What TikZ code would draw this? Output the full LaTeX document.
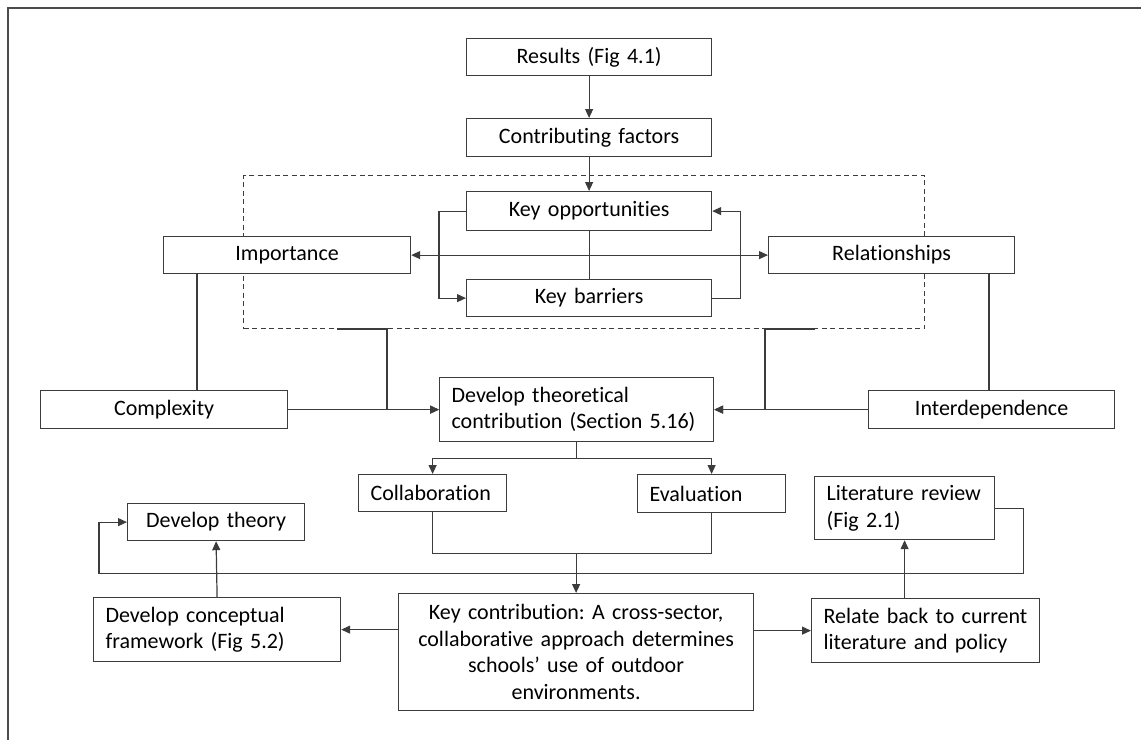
\documentclass[tikz,border=0pt]{standalone}
\usepackage{fontspec}
\setmainfont{Carlito}[Ligatures=NoCommon, WordSpace=0.75]
\frenchspacing
\usetikzlibrary{arrows.meta}
\definecolor{lc}{HTML}{3C3C3C}
\begin{document}
\begin{tikzpicture}[
  x=1pt, y=-1pt,
  every node/.style={font=\fontsize{22}{26.5}\selectfont},
  box/.style={draw=lc, line width=1.2pt, fill=white, inner xsep=12pt, inner ysep=0pt,
              anchor=north west, align=center},
  lbox/.style={box, align=left},
  conn/.style={draw=lc, line width=1.2pt},
  arr/.style={conn, -{Triangle[length=9pt,width=8pt]}},
  arrboth/.style={conn, {Triangle[length=9pt,width=8pt]}-{Triangle[length=9pt,width=8pt]}},
  grpbox/.style={draw=lc, line width=1pt, dash pattern=on 5pt off 3.5pt, inner sep=0pt,
                 anchor=north west}
]
\useasboundingbox (0,0) rectangle (1141,740);
% page frame (top and left rules)
\draw[line width=1.6pt, black!70] (8,740) -- (8,8) -- (1141,8);

% group of contributing factors
\node[grpbox, minimum width=681pt, minimum height=153pt] (grp) at (243,175) {};

% boxes
\node[box, text width=221pt, minimum height=37pt] (res) at (466,38) {Results (Fig 4.1)};
\node[box, text width=221pt, minimum height=38pt] (cf)  at (466,118) {Contributing factors};
\node[box, text width=221pt, minimum height=39pt] (ko)  at (466,191) {Key opportunities};
\node[box, text width=221pt, minimum height=37pt] (kb)  at (466,279) {Key barriers};
\node[box, text width=223pt, minimum height=37pt] (imp) at (163,236) {Importance};
\node[box, text width=222pt, minimum height=37pt] (rel) at (768,236) {Relationships};
\node[box, text width=223pt, minimum height=38pt] (cpx) at (40,390) {Complexity};
\node[box, text width=222pt, minimum height=38pt] (idp) at (868,390) {Interdependence};
\node[lbox, text width=250pt, minimum height=64pt] (dtc) at (439,377)
  {Develop theoretical\\contribution (Section 5.16)};
\node[lbox, text width=124pt, minimum height=37pt] (col) at (358,474) {Collaboration};
\node[lbox, text width=124pt, minimum height=38pt] (eva) at (637,474) {Evaluation};
\node[box, text width=153pt, minimum height=37pt] (dth) at (127,503) {Develop theory};
\node[lbox, text width=156pt, minimum height=63pt] (lit) at (814,476)
  {Literature review\\(Fig 2.1)};
\node[lbox, text width=223pt, minimum height=64pt] (dcf) at (93,597)
  {Develop conceptual\\framework (Fig 5.2)};
\node[box, text width=331pt, minimum height=117pt] (kc) at (398,593)
  {Key contribution: A cross-sector,\\collaborative approach determines\\schools’ use of outdoor\\environments.};
\node[lbox, text width=204pt, minimum height=64pt] (rb) at (811,598)
  {Relate back to current\\literature and policy};

% top chain
\draw[arr] (res.south) -- (cf.north);
\draw[arr] (cf.south) -- (ko.north);
\draw[conn] (ko.south) -- (kb.north);
\draw[arr] (ko.west) -- ++(-27,0) |- (kb.west);
\draw[arr] (kb.east) -- ++(28,0) |- (ko.east);
\draw[arrboth] (imp.east) -- (rel.west);

% side factors
\draw[conn] ([xshift=34pt]imp.south west) -- ([xshift=157pt]cpx.north west);
\draw[conn] ([xshift=221pt]rel.south west) -- ([xshift=121pt]idp.north west);
\draw[arr] (cpx.east) -- (dtc.west);
\draw[arr] (idp.east -| idp.west) -- (dtc.east);
\draw[arr] ([xshift=94pt]grp.south west) -- ([xshift=144pt]grp.south west) |- (dtc.west);
\draw[arr] ([xshift=-110pt]grp.south east) -- ([xshift=-160pt]grp.south east) |- (dtc.east);

% theoretical contribution split and merge
\draw[arr] (dtc.south) -- ++(0,16) -| (col.north);
\draw[arr] (dtc.south) -- ++(0,16) -| (eva.north);
\draw[conn] (col.south) -- ++(0,41) coordinate (mg) -| (eva.south);
\draw[arr] (mg -| kc.north) -- (kc.north);

% outputs of the key contribution
\draw[arr] (kc.west |- dcf.east) -- (dcf.east);
\draw[arr] (kc.east |- rb.west) -- (rb.west);
\draw[arr] (dcf.north) -- (dth.south);
\draw[arr] (lit.south |- rb.north) -- (lit.south);
\draw[arr] (lit.east) -- ++(28,0) -- ++(0,65.5) -| ([xshift=-28pt]dth.west) -- (dth.west);
\end{tikzpicture}
\end{document}
